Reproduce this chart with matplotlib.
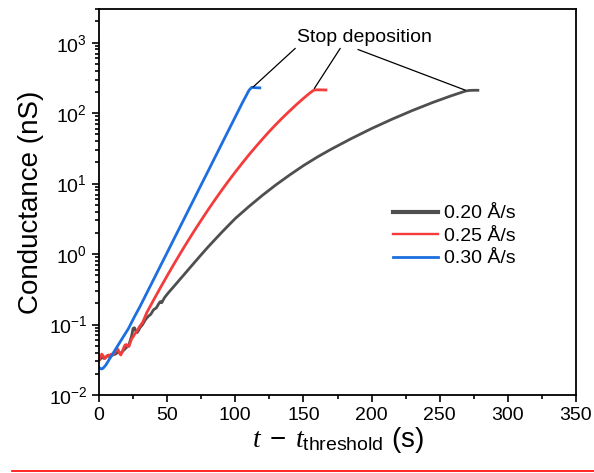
import matplotlib
matplotlib.use("Agg")
import matplotlib.pyplot as plt
from matplotlib.lines import Line2D
from matplotlib.ticker import LogLocator, MultipleLocator, LogFormatterMathtext

plt.rcParams['font.family'] = ['Liberation Sans', 'DejaVu Sans']
plt.rcParams['mathtext.fontset'] = 'custom'
plt.rcParams['mathtext.rm'] = 'Liberation Sans'
plt.rcParams['mathtext.it'] = 'Liberation Serif:italic'

# 0.20 A/s (grey)
t_020 = [0, 2, 4, 6, 8, 10, 12, 14, 16, 18, 20, 22, 24, 25, 26, 27, 28, 29, 30,
         32, 34, 36, 38, 40, 42, 44, 45, 46, 48, 50, 52, 54, 56, 58, 60, 62, 65,
         68, 70.5, 75, 80, 85, 90, 95, 100, 110, 120, 130, 140, 150, 160, 170,
         185, 200, 215, 230, 245, 258, 269, 272, 275, 278]
g_020 = [0.031, 0.034, 0.033, 0.036, 0.035, 0.037, 0.038, 0.041, 0.039, 0.043,
         0.047, 0.052, 0.07, 0.088, 0.09, 0.081, 0.077, 0.082, 0.09, 0.1,
         0.117, 0.13, 0.14, 0.162, 0.172, 0.2, 0.212, 0.204, 0.24, 0.269,
         0.299, 0.331, 0.367, 0.407, 0.452, 0.50, 0.585, 0.684, 0.778, 0.98,
         1.26, 1.6, 2.03, 2.55, 3.2, 4.73, 6.84, 9.66, 13.3, 18.0, 23.7, 30.5,
         43.4, 60.4, 82.0, 109, 142, 175, 206, 210, 211, 211]

# 0.25 A/s (red)
t_025 = [0, 1, 2, 3, 4, 5, 6, 7, 8, 9, 10, 11, 12, 13, 14, 15, 16, 17, 18, 19,
         20, 21, 22, 23, 24, 25, 26, 28, 30, 32, 35, 40, 45, 50, 55, 60, 65, 70,
         75, 80, 85, 90, 95, 100, 105, 110, 115, 120, 125, 130, 135, 140, 145,
         150, 155, 157.5, 159, 162, 166.5]
g_025 = [0.031, 0.035, 0.038, 0.036, 0.033, 0.034, 0.036, 0.037, 0.036, 0.038,
         0.037, 0.039, 0.042, 0.046, 0.044, 0.039, 0.037, 0.041, 0.046, 0.051,
         0.052, 0.049, 0.049, 0.056, 0.063, 0.067, 0.072, 0.082, 0.095, 0.107,
         0.147, 0.222, 0.332, 0.492, 0.722, 1.05, 1.51, 2.15, 3.03, 4.24, 5.86,
         8.03, 10.9, 14.6, 19.4, 25.6, 33.3, 43.0, 55.1, 69.7, 87.2, 108, 133,
         162, 195, 211, 214, 214, 213]

# 0.30 A/s (blue)
t_030 = [0, 1, 2, 3, 5, 8, 11.7, 16, 21.5, 26, 30, 35, 40, 45, 50, 55, 60, 65,
         70, 75, 80, 85, 90, 95, 100, 105, 110, 112, 114, 118]
g_030 = [0.0245, 0.0237, 0.0234, 0.024, 0.0266, 0.0331, 0.0432, 0.0589, 0.087,
         0.129, 0.179, 0.279, 0.434, 0.676, 1.05, 1.64, 2.55, 3.98, 6.19, 9.66,
         15.0, 23.4, 36.5, 56.9, 88.5, 138, 210, 232, 230, 228]

labels = ['0.20 Å/s', '0.25 Å/s', '0.30 Å/s']
colors = ['#4f4f4f', '#f43c3c', '#1b6fe0']

fig = plt.figure(figsize=(5.94, 4.73), dpi=100)
ax = fig.add_axes([0.1667, 0.1649, 0.803, 0.816])

ax.plot(t_020, g_020, color=colors[0], lw=2.0, label=labels[0])
ax.plot(t_025, g_025, color=colors[1], lw=2.0, label=labels[1])
ax.plot(t_030, g_030, color=colors[2], lw=2.0, label=labels[2])

ax.set_yscale('log')
ax.set_xlim(0, 350)
ax.set_ylim(1e-2, 3e3)
ax.xaxis.set_major_locator(MultipleLocator(50))
ax.xaxis.set_minor_locator(MultipleLocator(25))
ax.yaxis.set_major_locator(LogLocator(base=10, numticks=10))
ax.yaxis.set_minor_locator(LogLocator(base=10, subs=range(2, 10), numticks=20))
ax.yaxis.set_major_formatter(LogFormatterMathtext())

ax.tick_params(which='both', direction='out', labelsize=14, width=1.2)
ax.tick_params(which='major', length=5)
ax.tick_params(which='minor', length=3)
for s in ax.spines.values():
    s.set_linewidth(1.3)

ax.set_ylabel('Conductance (nS)', fontsize=20, labelpad=3)
ax.set_xlabel(r'$\mathit{t}\;-\;\mathit{t}_{\mathrm{threshold}}$ (s)', fontsize=20, labelpad=1)

leg = ax.legend(loc='upper left', bbox_to_anchor=(0.58, 0.538), frameon=False,
                fontsize=14, handlelength=2.3, handletextpad=0.3, labelspacing=0.25)
for ln, w in zip(leg.get_lines(), [3.0, 1.7, 2.0]):
    ln.set_linewidth(w)

# "Stop deposition" pointers
ax.text(195, 1200, 'Stop deposition', fontsize=14, ha='center', va='center')
ends = [(113, 234), (158, 224), (268.7, 212)]
starts = [(144, 830), (177, 830), (190, 800)]
for (x0, y0), (x1, y1) in zip(starts, ends):
    ax.annotate('', xy=(x1, y1), xytext=(x0, y0),
                arrowprops=dict(arrowstyle='-', lw=0.9, color='black',
                                shrinkA=0, shrinkB=0))

fig.add_artist(Line2D([12 / 594, 1], [1 - 471 / 473] * 2, color='red', lw=1.2))

fig.savefig('out.png', dpi=100)
